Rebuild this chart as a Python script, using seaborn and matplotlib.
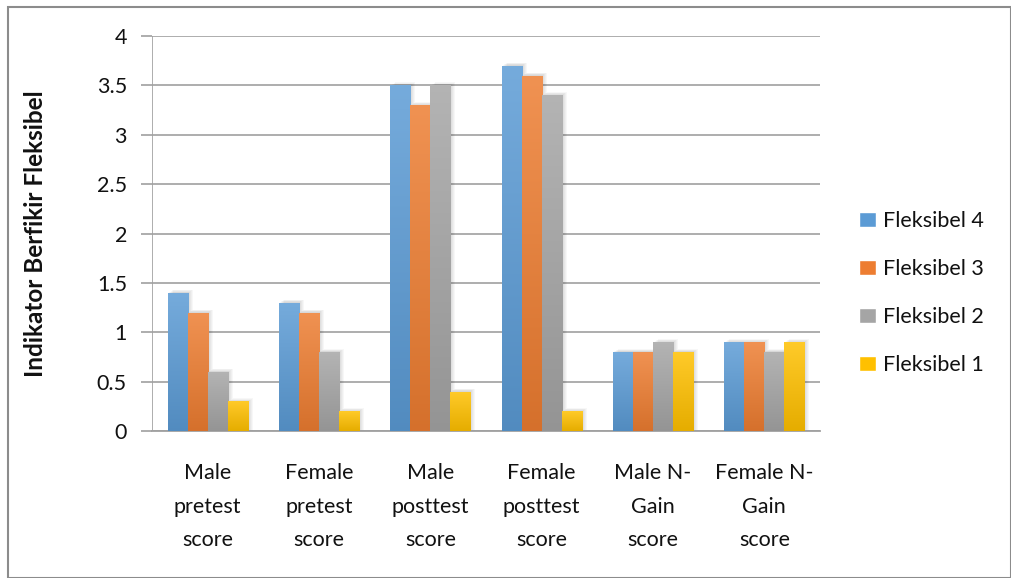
import numpy as np
import pandas as pd
import matplotlib
matplotlib.use("Agg")
import matplotlib.pyplot as plt
import matplotlib.colors as mcolors
from matplotlib.patches import Rectangle
import seaborn as sns

categories = ["Male\npretest\nscore", "Female\npretest\nscore", "Male\nposttest\nscore",
              "Female\nposttest\nscore", "Male N-\nGain\nscore", "Female N-\nGain\nscore"]
series = ["Fleksibel 4", "Fleksibel 3", "Fleksibel 2", "Fleksibel 1"]
fleksibel_4 = [1.4, 1.3, 3.5, 3.7, 0.8, 0.9]
fleksibel_3 = [1.2, 1.2, 3.3, 3.6, 0.8, 0.9]
fleksibel_2 = [0.6, 0.8, 3.5, 3.4, 0.9, 0.8]
fleksibel_1 = [0.3, 0.2, 0.4, 0.2, 0.8, 0.9]
colors = ["#5B9BD5", "#ED7D31", "#A5A5A5", "#FFC000"]

df = pd.DataFrame({
    "cat": categories * 4,
    "series": sum([[s] * len(categories) for s in series], []),
    "value": fleksibel_4 + fleksibel_3 + fleksibel_2 + fleksibel_1,
})

sns.set_theme(style="white")
plt.rcParams["font.family"] = ["Lato", "DejaVu Sans"]
FS = 15.5

fig = plt.figure(figsize=(10.12, 5.78), dpi=100)
ax = fig.add_axes([152 / 1012, 1 - 431 / 578, (820 - 152) / 1012, (431 - 36) / 578])

sns.barplot(data=df, x="cat", y="value", hue="series", hue_order=series,
            palette=colors, saturation=1, width=0.72, gap=0, ax=ax, legend=True, zorder=3)

ax.set_ylim(0, 4)
ax.set_xlim(-0.5, 5.5)
ax.set_yticks(np.arange(0, 4.01, 0.5))
ax.set_yticklabels(["0", "0.5", "1", "1.5", "2", "2.5", "3", "3.5", "4"])
ax.yaxis.grid(True, color="#A0A0A0", linewidth=1.2, zorder=0)
ax.set_axisbelow(True)
for s in ["top", "right", "left"]:
    ax.spines[s].set_visible(False)
ax.spines["bottom"].set_color("#A0A0A0")
ax.spines["bottom"].set_linewidth(1.3)
ax.axvline(-0.5, color="#A0A0A0", linewidth=1.2, zorder=1)
ax.tick_params(axis="y", length=8, color="#A0A0A0", width=1.2, labelsize=FS, pad=10,
               left=True, labelcolor="#111111")
ax.tick_params(axis="x", length=0, labelsize=FS, pad=23, labelcolor="#111111")
for lab in ax.get_xticklabels():
    lab.set_linespacing(1.85)
ax.set_xlabel("")
ax.set_ylabel("Indikator Berfikir Fleksibel", fontsize=17.5, fontweight="bold", labelpad=36,
              color="#111111")

# vertical gradient fill and soft right-hand shadow for each bar
px_x = 6.0 / (820 - 152)
px_y = 4.0 / (431 - 36)
bars = [p for p in ax.patches if p.get_height() > 0]
for p in bars:
    base = np.array(mcolors.to_rgb(p.get_facecolor()))
    top = base + (1 - base) * 0.16
    bottom = base * 0.9
    t = np.linspace(0, 1, 64)[:, None]
    grad = top[None, :] * (1 - t) + bottom[None, :] * t
    img = grad[:, None, :]
    x0, y0 = p.get_x(), p.get_y()
    w, h = p.get_width(), p.get_height()
    for k in range(1, 6):
        sh = Rectangle((x0 + k * px_x, y0), w, h + 0.6 * k * px_y, facecolor="black",
                       alpha=0.03, edgecolor="none", zorder=2.5)
        ax.add_patch(sh)
    im = ax.imshow(img, extent=[x0, x0 + w, y0, y0 + h], aspect="auto", zorder=3.2,
                   interpolation="bilinear")
    im.set_clip_path(p)
    p.set_edgecolor("none")
ax.set_xlim(-0.5, 5.5)
ax.set_ylim(0, 4)

handles, labels = ax.get_legend_handles_labels()
ax.legend(handles, labels, loc="center left", bbox_to_anchor=(840 / 1012, 1 - 293 / 578),
          bbox_transform=fig.transFigure, frameon=False, fontsize=FS,
          handlelength=0.75, handleheight=0.75, handletextpad=0.35, labelspacing=1.3,
          labelcolor="#111111")

fig.patches.append(Rectangle((8 / 1012, 0), 1 - 9 / 1012, 1 - 7 / 578, transform=fig.transFigure,
                             fill=False, edgecolor="#8C8C8C", linewidth=1.5))

fig.savefig("out.png", dpi=100)
